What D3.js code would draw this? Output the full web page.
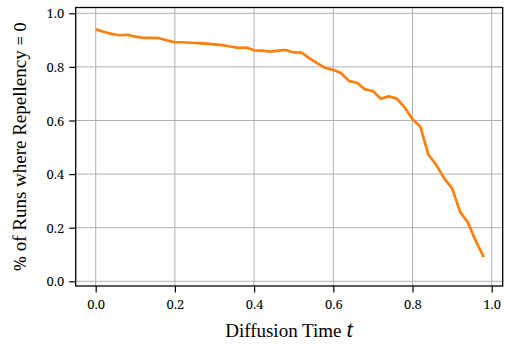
<!DOCTYPE html>
<html>
<head>
<meta charset="utf-8">
<script src="https://cdn.jsdelivr.net/npm/d3@7"></script>
<style>
  html, body { margin: 0; padding: 0; background: #fff; }
  svg { display: block; }
</style>
</head>
<body>
<svg id="chart" width="505" height="347"></svg>
<script>
// Diffusion time samples (t = 0.00, 0.02, ..., 0.98)
const diffusionTimes = [
  0.00, 0.02, 0.04, 0.06, 0.08, 0.10, 0.12, 0.14, 0.16, 0.18,
  0.20, 0.22, 0.24, 0.26, 0.28, 0.30, 0.32, 0.34, 0.36, 0.38,
  0.40, 0.42, 0.44, 0.46, 0.48, 0.50, 0.52, 0.54, 0.56, 0.58,
  0.60, 0.62, 0.64, 0.66, 0.68, 0.70, 0.72, 0.74, 0.76, 0.78,
  0.80, 0.82, 0.84, 0.86, 0.88, 0.90, 0.92, 0.94, 0.96, 0.98
];

// Fraction of runs whose repellency is zero at each diffusion time
const zeroRepellencyShare = [
  0.940, 0.931, 0.923, 0.918, 0.920, 0.913, 0.908, 0.908, 0.907, 0.899,
  0.892, 0.892, 0.890, 0.889, 0.887, 0.884, 0.881, 0.876, 0.871, 0.872,
  0.862, 0.861, 0.857, 0.861, 0.863, 0.854, 0.853, 0.832, 0.813, 0.796,
  0.789, 0.776, 0.747, 0.741, 0.716, 0.710, 0.681, 0.690, 0.682, 0.649,
  0.605, 0.577, 0.473, 0.434, 0.384, 0.347, 0.260, 0.219, 0.150, 0.090
];

const xTickValues = [0.0, 0.2, 0.4, 0.6, 0.8, 1.0];
const yTickValues = [0.0, 0.2, 0.4, 0.6, 0.8, 1.0];

const MATH_FONT = "'Noto Serif', 'Liberation Serif', serif";
const TEXT_FONT = "'Liberation Serif', 'Times New Roman', serif";

const svg = d3.select("#chart");
const plot = { left: 75.7, right: 502.7, top: 7.5, bottom: 286 };

const x = d3.scaleLinear().domain([-0.0505, 1.0278]).range([plot.left, plot.right]);
const y = d3.scaleLinear().domain([-0.0175, 1.0216]).range([plot.bottom, plot.top]);

// grid
const grid = svg.append("g").attr("stroke", "#b0b0b0").attr("stroke-width", 1);
grid.selectAll("line.vx").data(xTickValues).join("line")
  .attr("x1", d => x(d)).attr("x2", d => x(d))
  .attr("y1", plot.top).attr("y2", plot.bottom);
grid.selectAll("line.hy").data(yTickValues).join("line")
  .attr("x1", plot.left).attr("x2", plot.right)
  .attr("y1", d => y(d)).attr("y2", d => y(d));

// data line
const line = d3.line()
  .x((d, i) => x(diffusionTimes[i]))
  .y(d => y(d));
svg.append("path")
  .datum(zeroRepellencyShare)
  .attr("d", line)
  .attr("fill", "none")
  .attr("stroke", "#ff7f0e")
  .attr("stroke-width", 2.7)
  .attr("stroke-linejoin", "round")
  .attr("stroke-linecap", "butt");

// axes with outward ticks
const fmt = d3.format(".1f");
const xAxis = svg.append("g")
  .attr("transform", `translate(0,${plot.bottom})`)
  .call(d3.axisBottom(x).tickValues(xTickValues).tickFormat(fmt).tickSize(6.5).tickPadding(7));
const yAxis = svg.append("g")
  .attr("transform", `translate(${plot.left},0)`)
  .call(d3.axisLeft(y).tickValues(yTickValues).tickFormat(fmt).tickSize(6.5).tickPadding(5));

[xAxis, yAxis].forEach(g => {
  g.attr("font-family", null).attr("font-size", null);
  g.select(".domain").remove();
  g.selectAll(".tick line").attr("stroke", "#000").attr("stroke-width", 1.2);
  g.selectAll(".tick text")
    .attr("fill", "#000")
    .style("font-family", MATH_FONT)
    .style("font-size", "13px");
});
yAxis.selectAll(".tick text").attr("dy", "0.36em");

// frame
svg.append("rect")
  .attr("x", plot.left).attr("y", plot.top)
  .attr("width", plot.right - plot.left).attr("height", plot.bottom - plot.top)
  .attr("fill", "none").attr("stroke", "#000").attr("stroke-width", 1.3);

// axis titles
const xTitle = svg.append("text")
  .attr("x", (plot.left + plot.right) / 2)
  .attr("y", 337)
  .attr("text-anchor", "middle")
  .style("font-family", TEXT_FONT)
  .style("font-size", "19px");
xTitle.append("tspan").text("Diffusion Time ");
xTitle.append("tspan").style("font-family", MATH_FONT).style("font-style", "italic").text("t");

const yTitle = svg.append("text")
  .attr("transform", `translate(26,${(plot.top + plot.bottom) / 2}) rotate(-90)`)
  .attr("text-anchor", "middle")
  .style("font-family", TEXT_FONT)
  .style("font-size", "19px");
yTitle.append("tspan").style("font-family", MATH_FONT).style("font-size", "17px").text("%");
yTitle.append("tspan").text(" of Runs where Repellency ");
yTitle.append("tspan").style("font-family", MATH_FONT).style("font-size", "17px").text("= 0");
</script>
</body>
</html>
